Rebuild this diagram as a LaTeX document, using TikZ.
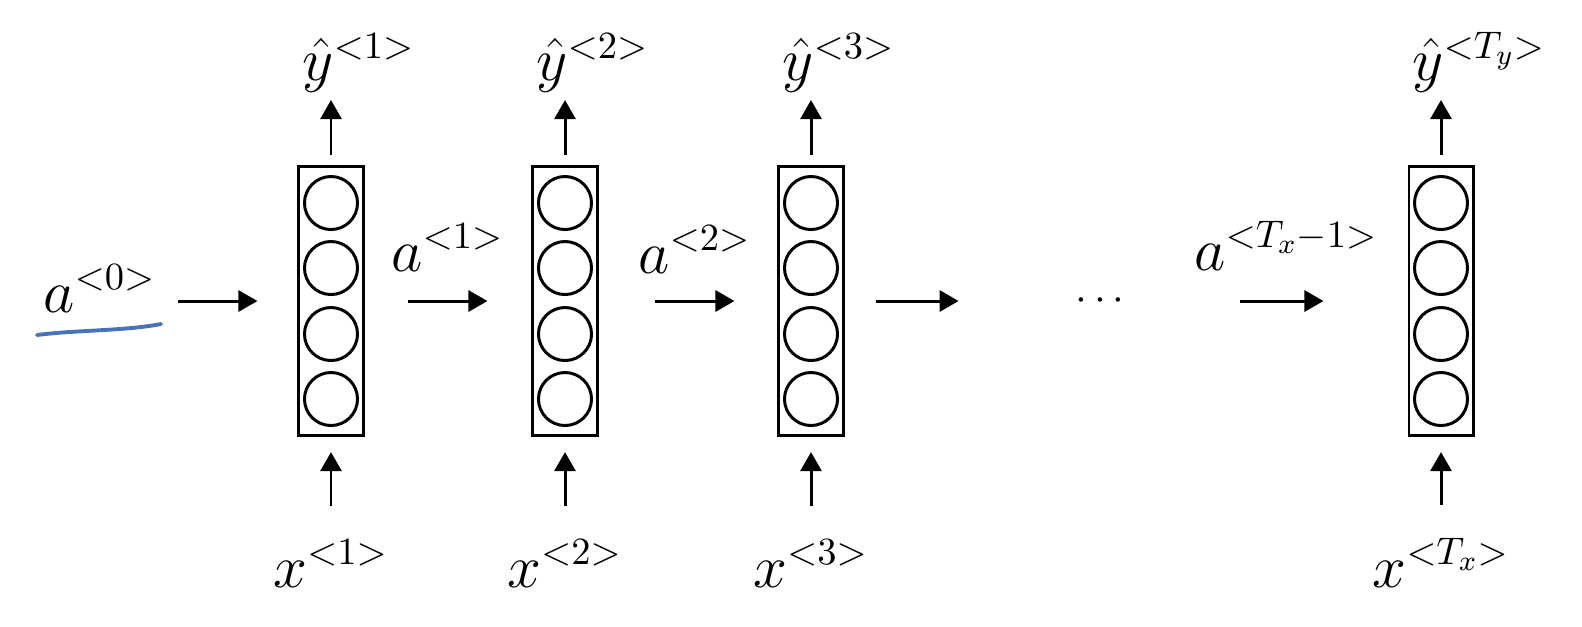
\documentclass[tikz,border=0pt]{standalone}
\usetikzlibrary{arrows.meta}
\definecolor{pen}{RGB}{70,115,185}

\begin{document}
\begin{tikzpicture}[
    x=0.01cm, y=-0.01cm,
    layer/.style={rectangle, draw, line width=0.85pt, minimum width=0.64cm, minimum height=2.69cm, inner sep=0},
    unit/.style={circle, draw, line width=0.85pt, minimum size=0.53cm, inner sep=0},
    lbl/.style={inner sep=0, font=\fontsize{16}{19}\selectfont},
    arr/.style={-{Triangle[length=0.19cm, width=0.21cm]}, line width=0.85pt}
]
    \useasboundingbox (0,0) rectangle (1582,626);

    \foreach \n/\x/\s/\t in {1/331/1/1, 2/565/2/2, 3/811/3/3, 4/1441/T_x/T_y} {
        \node[layer] (b\n) at (\x,301) {};
        \foreach \j/\y in {1/203, 2/268, 3/334, 4/399}
            \node[unit] (u\n\j) at (\x,\y) {};

        \node[lbl, anchor=south west] (y\n) at ({\x-29},93) {$\hat{y}^{<\t>}$};
        \node[lbl, anchor=base] (x\n) at (\x,587) {$x^{<\s>}$};

        \draw[arr, shorten <=0.1cm, shorten >=0.07cm] (b\n.north) -- (b\n.north |- y\n.south);
        \draw[arr, shorten <=0.33cm, shorten >=0.15cm] (b\n.south |- x\n.north) -- (b\n.south);
    }

    \node[lbl, anchor=base west] (a0) at (43,312) {$a^{<0>}$};
    \node[lbl, anchor=base west] (a1) at (391,271) {$a^{<1>}$};
    \node[lbl, anchor=base west] (a2) at (638,273) {$a^{<2>}$};
    \node[lbl, anchor=base west] (a3) at (1194,270) {$a^{<T_x-1>}$};

    \node[lbl, font=\fontsize{13}{15}\selectfont\bfseries] (dots) at (1100,301) {$\cdots$};

    \draw[arr, shorten <=0.21cm, shorten >=0.4cm] (a0.east |- b1.west) -- (b1.west);
    \draw[arr, shorten <=0.43cm, shorten >=0.44cm] (b1) -- (b2);
    \draw[arr, shorten <=0.56cm, shorten >=0.43cm] (b2) -- (b3);
    \draw[arr, shorten <=0.31cm, shorten >=1.16cm] (b3) -- (dots);
    \draw[arr, shorten <=1.15cm, shorten >=0.84cm] (dots) -- (b4);

    \draw[pen, line width=1.1pt, line cap=round] (37,335) .. controls (75,330) and (125,331) .. (161,324);

\end{tikzpicture}
\end{document}
